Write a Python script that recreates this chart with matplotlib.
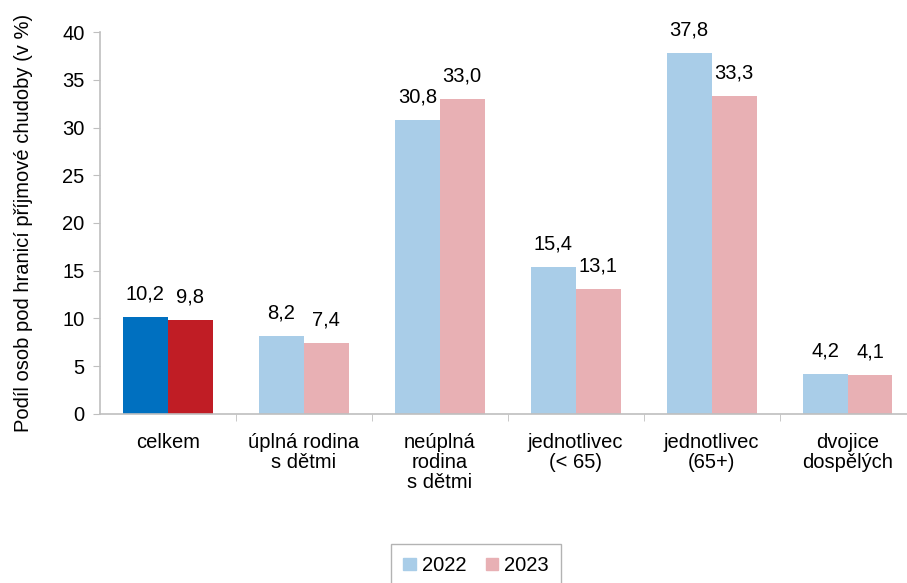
import numpy as np
import matplotlib.pyplot as plt

plt.rcParams['font.family'] = ['Liberation Sans', 'DejaVu Sans']

categories = ['celkem', 'úplná rodina\ns dětmi', 'neúplná\nrodina\ns dětmi',
              'jednotlivec\n(< 65)', 'jednotlivec\n(65+)', 'dvojice\ndospělých']
v2022 = [10.2, 8.2, 30.8, 15.4, 37.8, 4.2]
v2023 = [9.8, 7.4, 33.0, 13.1, 33.3, 4.1]
years = ['2022', '2023']

c22, c23 = '#a9cde8', '#e8b0b4'
c22_first, c23_first = '#0070c0', '#c01d25'
fs = 14.5

fig = plt.figure(figsize=(9.07, 5.83), dpi=100)
ax = fig.add_axes([0.110, 0.290, 0.895, 0.655])

x = np.arange(len(categories))
w = 0.33
b1 = ax.bar(x - w / 2, v2022, w, color=[c22_first] + [c22] * 5, label=years[0])
b2 = ax.bar(x + w / 2, v2023, w, color=[c23_first] + [c23] * 5, label=years[1])

for bars, vals in [(b1, v2022), (b2, v2023)]:
    for rect, v in zip(bars, vals):
        ax.text(rect.get_x() + rect.get_width() / 2, v + 2.4, f'{v:.1f}'.replace('.', ','),
                ha='center', va='center', fontsize=fs)

ax.set_ylim(0, 40)
ax.set_yticks(range(0, 41, 5))
ax.set_xlim(-0.5, 5.47)
ax.set_xticks(x)
ax.set_xticklabels(categories, fontsize=fs, linespacing=1.05)
ax.set_xticks(np.arange(0.5, 5.5, 1), minor=True)
ax.tick_params(axis='x', which='major', length=0, pad=14)
ax.tick_params(axis='x', which='minor', length=5, color='#bfbfbf', direction='out')
ax.tick_params(axis='y', length=5, color='#bfbfbf', labelsize=fs, pad=6)
for s in ['top', 'right']:
    ax.spines[s].set_visible(False)
for s in ['left', 'bottom']:
    ax.spines[s].set_color('#bfbfbf')
    ax.spines[s].set_linewidth(1.2)

ax.set_ylabel('Podíl osob pod hranicí příjmové chudoby (v %)', fontsize=fs, labelpad=21)

h1 = plt.Rectangle((0, 0), 1, 1, color=c22)
h2 = plt.Rectangle((0, 0), 1, 1, color=c23)
leg = fig.legend([h1, h2], years, loc='center', bbox_to_anchor=(0.525, 0.03), ncol=2,
                 fontsize=fs, frameon=True, fancybox=False, edgecolor='#a0a0a0',
                 handlelength=0.6, handleheight=0.6, handletextpad=0.3, columnspacing=1.0,
                 borderpad=0.6)

fig.savefig('out.png', dpi=100)
